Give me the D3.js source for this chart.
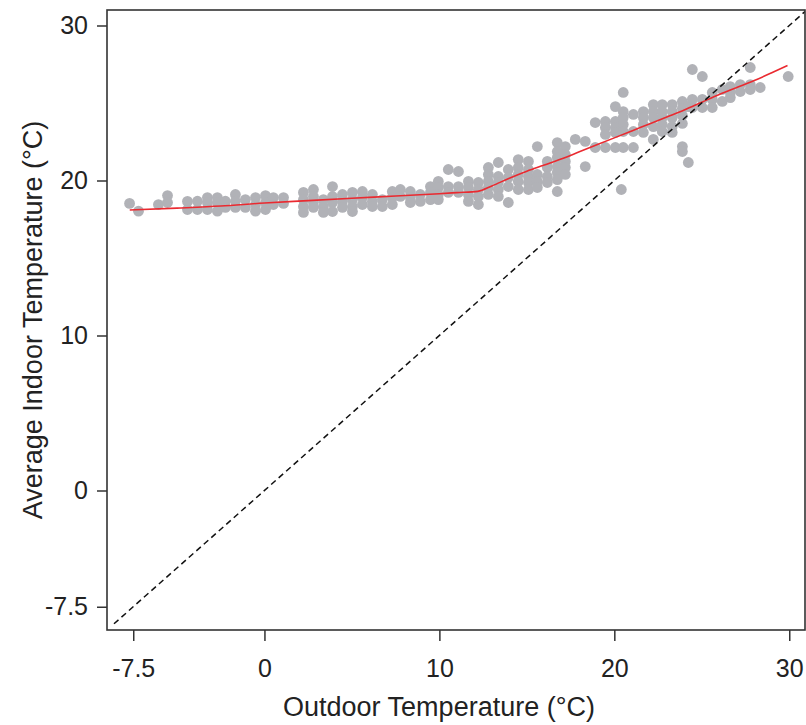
<!DOCTYPE html>
<html><head><meta charset="utf-8">
<script src="https://cdn.jsdelivr.net/npm/d3@7"></script>
<style>
html,body{margin:0;padding:0;background:#fff;}
svg{display:block;}
text{font-family:"Liberation Sans",Arial,Helvetica,sans-serif;fill:#222;}
</style></head>
<body>
<script>
// ---- data ----
const xTicks = [-7.5, 0, 10, 20, 30];
const yTicks = [-7.5, 0, 10, 20, 30];
const xLabel = "Outdoor Temperature (°C)";
const yLabel = "Average Indoor Temperature (°C)";

// observations grouped in columns of outdoor temperature
const colOutdoor = [-7.71,-7.2,-6.06,-5.54,-4.4,-3.83,-3.26,-2.69,-2.23,-1.66,-1.09,-0.51,0.06,0.51,1.09,2.23,2.8,3.37,3.89,4.46,5.03,5.6,6.17,6.74,7.31,7.77,8.34,8.91,9.49,9.94,10.51,11.09,11.66,12.23,12.8,13.37,13.94,14.51,15.09,15.6,16.17,16.74,17.2,17.77,18.34,18.91,19.49,20.06,20.4,20.51,21.09,21.66,22.23,22.74,23.31,23.89,24.23,24.46,25.03,25.6,26.17,26.63,27.2,27.77,28.34,29.94];
const colIndoor = [
 [18.52],[18.02],[18.45],[19.03,18.58],[18.65,18.13],[18.66,18.13],[18.9,18.58,18.13],[18.9,18.58,18.02],
 [18.66,18.26],[19.1,18.66,18.26],[18.77,18.26],[18.9,18.45,18.02],[19.03,18.58,18.13],[18.9,18.45],[18.9,18.52],
 [19.23,18.77,18.32,17.94],[19.42,18.97,18.58,18.26],[18.77,18.32,17.94],[19.61,18.97,18.58,18.0],[19.1,18.65,18.26],
 [19.23,18.77,18.32,18.0],[19.29,18.9,18.45],[19.1,18.65,18.32],[18.77,18.32],[19.29,18.9,18.45],[19.42,18.97],
 [19.29,18.9,18.58],[19.1,18.65],[19.61,19.23,18.77],[19.94,19.55,19.1,18.77],[20.71,19.61,19.23],[20.58,19.61,19.23],
 [19.94,19.55,19.1,18.65],[19.87,19.42,18.97,18.45],[20.84,20.39,19.94,19.55,19.1],[21.16,20.26,19.87,19.42,18.97],
 [20.71,20.19,19.61,18.58],[21.35,20.84,20.39,19.94,19.42],[21.23,20.71,20.26,19.87,19.42],[22.19,20.39,19.94,19.55],
 [21.23,20.84,20.26,19.87],[22.45,21.87,21.48,20.9,20.52,20.06,19.29],[22.19,21.68,21.23,20.84,20.39],[22.65],
 [22.52,20.9],[23.74,22.13],[23.81,23.42,22.97,22.13],[24.77,23.81,23.42,23.1,22.13],[19.42],
 [25.68,24.45,24.06,23.61,23.16,22.13],[24.26,23.16,22.13],[24.45,24.06,23.61,23.1],[24.9,24.45,24.06,23.48,22.65],
 [24.9,24.45,24.06,23.61,23.16],[24.9,24.45,24.06,23.48,23.1],[25.1,24.65,24.19,23.68,22.19,21.87],[24.77,21.16],
 [27.16,25.23,24.71],[26.71,25.23,24.71],[25.68,25.23,24.71],[25.87,25.1],[26.06,25.68,25.35],[26.19,25.74],
 [27.29,26.19,25.87],[26.0],[26.71]
];

// smoothed (lowess) curve
const fitOutdoor = [-7.7,-5,-2.5,0,2.5,5,7.5,10,11,12.2,13,14,15,16,17,18,19,20,21,22,23,24,25,26,27,28,29,29.9];
const fitIndoor  = [18.1,18.22,18.35,18.55,18.7,18.85,19.0,19.15,19.22,19.3,19.65,20.15,20.6,21.0,21.4,21.85,22.3,22.75,23.2,23.65,24.1,24.55,25.05,25.55,26.0,26.45,26.95,27.42];

// identity reference line
const refLine = [-8.6, 30.9];

// ---- layout ----
const W = 806, H = 725;
const mLeft = 107, mRight = 805, mTop = 10, mBottom = 630;

const x = d3.scaleLinear().domain([-9, 30.9]).range([mLeft, mRight]);
const y = d3.scaleLinear().domain([-9, 31]).range([mBottom, mTop]);

const svg = d3.select("body").append("svg").attr("width", W).attr("height", H);

svg.append("defs").append("clipPath").attr("id","clip")
  .append("rect").attr("x",mLeft).attr("y",mTop).attr("width",mRight-mLeft).attr("height",mBottom-mTop);

const pts = [];
colOutdoor.forEach((xv,i)=>colIndoor[i].forEach(yv=>pts.push([xv,yv])));

const plot = svg.append("g").attr("clip-path","url(#clip)");
plot.selectAll("circle").data(pts).enter().append("circle")
  .attr("cx",d=>x(d[0])).attr("cy",d=>y(d[1])).attr("r",5.4)
  .attr("fill","#b1b2b7");

plot.append("path")
  .attr("d", d3.line().curve(d3.curveMonotoneX).x(d=>x(d[0])).y(d=>y(d[1]))(fitOutdoor.map((v,i)=>[v,fitIndoor[i]])))
  .attr("fill","none").attr("stroke","#ea2a30").attr("stroke-width",1.6);

plot.append("path")
  .attr("d", d3.line().x(d=>x(d)).y(d=>y(d))(refLine))
  .attr("fill","none").attr("stroke","#111").attr("stroke-width",1.5)
  .attr("stroke-dasharray","6,4");

// frame
svg.append("rect").attr("x",mLeft).attr("y",mTop).attr("width",mRight-mLeft).attr("height",mBottom-mTop)
  .attr("fill","none").attr("stroke","#333").attr("stroke-width",1.6);

// axes
const fmt = d => d === -7.5 ? "-7.5" : String(d);
const xAxis = svg.append("g").attr("transform",`translate(0,${mBottom})`)
  .call(d3.axisBottom(x).tickValues(xTicks).tickFormat(fmt).tickSize(11).tickPadding(18).tickSizeOuter(0));
const yAxis = svg.append("g").attr("transform",`translate(${mLeft},0)`)
  .call(d3.axisLeft(y).tickValues(yTicks).tickFormat(fmt).tickSize(10).tickPadding(9).tickSizeOuter(0));
[xAxis,yAxis].forEach(a=>{
  a.select(".domain").remove();
  a.selectAll(".tick line").attr("stroke","#333").attr("stroke-width",1.5);
  a.selectAll(".tick text").attr("font-size",25).attr("fill","#222")
    .style("font-family",'"Liberation Sans",Arial,sans-serif');
});

svg.append("text").attr("x",439).attr("y",716).attr("text-anchor","middle")
  .attr("font-size",27).text(xLabel);
svg.append("text").attr("transform",`translate(42,320)rotate(-90)`).attr("text-anchor","middle")
  .attr("font-size",27).text(yLabel);
</script>
</body></html>
